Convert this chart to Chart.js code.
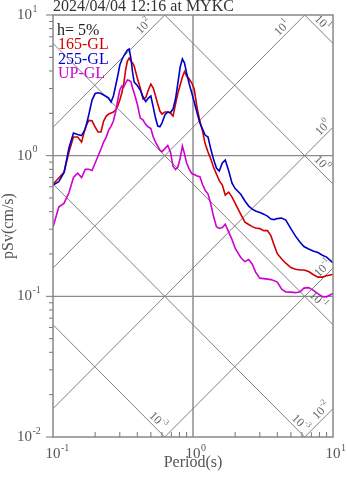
<!DOCTYPE html>
<html lang="en">
<head>
  <meta charset="UTF-8" />
  <title>pSv response spectra</title>
  <style>
    body { margin: 0; background: #fff; }
    canvas { display: block; }
  </style>
</head>
<body>

  <canvas id="spectrum" width="347" height="478"></canvas>

  <script src="https://cdn.jsdelivr.net/npm/chart.js"></script>

  <script>
    // period (s)
    const periods = [
      0.10, 0.11, 0.12, 0.13, 0.14, 0.15, 0.16, 0.17, 0.18, 0.19,
      0.20, 0.21, 0.22, 0.23, 0.24, 0.25, 0.26, 0.27, 0.28, 0.29,
      0.30, 0.31, 0.32, 0.33, 0.34, 0.35, 0.36, 0.37, 0.38, 0.40,
      0.42, 0.44, 0.46, 0.48, 0.50, 0.52, 0.54, 0.56, 0.58, 0.60,
      0.63, 0.66, 0.69, 0.72, 0.75, 0.78, 0.81, 0.84, 0.87, 0.90,
      0.94, 0.98, 1.02, 1.07, 1.12, 1.17, 1.22, 1.28, 1.34, 1.40,
      1.47, 1.54, 1.62, 1.70, 1.80, 1.90, 2.0, 2.1, 2.2, 2.35,
      2.5, 2.65, 2.8, 3.0, 3.2, 3.4, 3.6, 3.8, 4.0, 4.3,
      4.6, 5.0, 5.4, 5.8, 6.2, 6.7, 7.2, 7.8, 8.4, 9.0,
      10.0
    ];

    // pSv (cm/s), h = 5%
    const sv165 = [
      0.628, 0.693, 0.765, 1.061, 1.356, 1.356, 1.249, 1.572, 1.780, 1.770,
      1.598, 1.472, 1.472, 1.762, 1.913, 1.977, 2.009, 2.042, 2.110, 2.253,
      2.486, 2.788, 3.230, 4.062, 4.708, 4.945, 4.708, 4.557, 4.338, 3.564,
      3.025, 2.527, 2.590, 2.929, 3.230, 3.025, 2.654, 2.328, 2.076, 1.977,
      2.042, 2.042, 2.009, 1.913, 2.328, 2.788, 3.178, 3.622, 3.965, 3.683,
      3.506, 3.284, 2.977, 2.180, 1.762, 1.496, 1.219, 1.061, 0.946, 0.830,
      0.740, 0.665, 0.618, 0.525, 0.551, 0.508, 0.460, 0.417, 0.381, 0.337,
      0.324, 0.313, 0.306, 0.303, 0.293, 0.293, 0.270, 0.231, 0.201, 0.184,
      0.172, 0.160, 0.156, 0.154, 0.154, 0.150, 0.143, 0.137, 0.137, 0.140,
      0.143
    ];
    const sv255 = [
      0.618, 0.654, 0.760, 1.133, 1.448, 1.413, 1.390, 1.546, 1.945, 2.486,
      2.765, 2.802, 2.765, 2.698, 2.632, 2.569, 2.406, 2.654, 3.126, 3.683,
      4.410, 4.786, 5.110, 5.367, 5.638, 5.731, 4.945, 3.932, 3.338, 3.152,
      2.929, 2.611, 2.426, 2.569, 2.654, 2.216, 1.851, 1.624, 1.605, 1.705,
      1.945, 2.042, 2.025, 2.145, 2.527, 3.284, 4.267, 4.865, 4.557, 3.869,
      3.230, 2.788, 2.406, 2.009, 1.705, 1.546, 1.401, 1.356, 1.114, 0.946,
      0.816, 0.777, 0.886, 0.930, 0.777, 0.638, 0.583, 0.556, 0.529, 0.476,
      0.438, 0.417, 0.404, 0.394, 0.384, 0.372, 0.354, 0.351, 0.357, 0.360,
      0.348, 0.303, 0.268, 0.243, 0.226, 0.217, 0.210, 0.205, 0.196, 0.190,
      0.173
    ];
    const svUP = [
      0.311, 0.431, 0.460, 0.545, 0.700, 0.750, 0.700, 0.800, 0.800, 0.785,
      0.886, 0.994, 1.114, 1.249, 1.356, 1.521, 1.624, 1.762, 2.042, 2.486,
      2.929, 3.126, 3.075, 3.284, 3.450, 3.421, 3.365, 3.025, 2.788, 2.328,
      1.851, 1.791, 1.664, 1.598, 1.559, 1.356, 1.249, 1.170, 1.096, 1.069,
      1.123, 1.180, 1.061, 0.843, 0.796, 0.830, 0.961, 1.170, 1.027, 0.886,
      0.803, 0.746, 0.734, 0.716, 0.708, 0.623, 0.569, 0.533, 0.453, 0.372,
      0.313, 0.304, 0.308, 0.326, 0.286, 0.253, 0.220, 0.203, 0.188, 0.1765,
      0.1824, 0.1694, 0.1486, 0.1347, 0.1336, 0.1325, 0.1315, 0.1293, 0.1262, 0.1125,
      0.1075, 0.1071, 0.1062, 0.1078, 0.1144, 0.1153, 0.1107, 0.1045, 0.0995, 0.0992,
      0.1048
    ];

    const plotTitle = '2024/04/04 12:16 at MYKC';
    const dampingText = 'h= 5%';
    const seriesNames = ['165-GL', '255-GL', 'UP-GL'];

    // tripartite guide lines: displacement (cm) and acceleration (cm/s2)
    const dispLines = [0.001, 0.01, 0.1, 1, 10];
    const dispLabels = ['-3', '-3', '-1', '0', '1'];
    const accLines = [0.01, 0.1, 1, 10, 100];
    const accLabels = ['-2', '-1', '0', '1', '2'];

    // decade ticks
    const xTicks = [0.1, 1, 10];
    const yTicks = [0.01, 0.1, 1, 10];

    const colors = ['#d00000', '#0000c8', '#d000d0'];
    const FONT = '"Liberation Serif", "DejaVu Serif", serif';
    const TWO_PI = 2 * Math.PI;

    const svDisp = (d, t) => TWO_PI * d / t;
    const svAcc = (a, t) => a * t / TWO_PI;

    // where each guide label sits along its line (period, s)
    const dispLabelAt = [0.519, 5.41, 7.24, 7.70, 7.74];
    const accLabelAt = [8.93, 9.19, 9.19, 4.69, 0.483];

    const expText = v => String(Math.round(Math.log10(v)));

    // "10" with a raised exponent
    function drawPow(ctx, exp, x, y, size, align) {
      const supSize = Math.round(size * 0.68);
      ctx.font = size + 'px ' + FONT;
      const wBase = ctx.measureText('10').width;
      ctx.font = supSize + 'px ' + FONT;
      const wExp = ctx.measureText(exp).width;
      let x0 = x;
      if (align === 'base') x0 = x - wBase / 2;
      if (align === 'center') x0 = x - (wBase + wExp + 0.5) / 2;
      ctx.textAlign = 'left';
      ctx.textBaseline = 'middle';
      ctx.font = size + 'px ' + FONT;
      ctx.fillText('10', x0, y);
      ctx.font = supSize + 'px ' + FONT;
      ctx.fillText(exp, x0 + wBase + 0.5, y - size * 0.4);
    }

    function guideLabel(ctx, xs, ys, t, svOf, exp) {
      const px = xs.getPixelForValue(t), py = ys.getPixelForValue(svOf(t));
      const qx = xs.getPixelForValue(t * 1.2), qy = ys.getPixelForValue(svOf(t * 1.2));
      ctx.save();
      ctx.translate(px, py);
      ctx.rotate(Math.atan2(qy - py, qx - px));
      drawPow(ctx, exp, 0, -6.5, 12, 'center');
      ctx.restore();
    }

    const frame = {
      id: 'frame',
      beforeDatasetsDraw(chart) {
        const { ctx, chartArea: a, scales: { x, y } } = chart;
        ctx.save();
        // grid: T = 1 s and pSv = 1, 0.1
        ctx.strokeStyle = '#aaaaaa';
        ctx.lineWidth = 2;
        const gx = x.getPixelForValue(1);
        ctx.beginPath();
        ctx.moveTo(gx, a.top);
        ctx.lineTo(gx, a.bottom);
        ctx.stroke();
        ctx.strokeStyle = '#8a8a8a';
        ctx.lineWidth = 1.2;
        [1, 0.1].forEach(v => {
          const gy = y.getPixelForValue(v);
          ctx.beginPath();
          ctx.moveTo(a.left, gy);
          ctx.lineTo(a.right, gy);
          ctx.stroke();
        });
        ctx.restore();
      },
      afterDatasetsDraw(chart) {
        const { ctx, chartArea: a, scales: { x, y } } = chart;
        ctx.save();

        // frame
        ctx.strokeStyle = '#888';
        ctx.lineWidth = 1.5;
        ctx.strokeRect(a.left, a.top, a.right - a.left, a.bottom - a.top);

        // minor/major ticks
        ctx.lineWidth = 1;
        ctx.strokeStyle = '#777';
        ctx.beginPath();
        for (let k = -2; k <= 0; k++) {
          for (let m = 2; m <= 9; m++) {
            const ty = y.getPixelForValue(m * Math.pow(10, k));
            ctx.moveTo(a.left - 4, ty);
            ctx.lineTo(a.left, ty);
          }
        }
        yTicks.forEach(v => {
          const ty = y.getPixelForValue(v);
          ctx.moveTo(a.left - 7, ty);
          ctx.lineTo(a.left, ty);
        });
        for (let k = -1; k <= 0; k++) {
          for (let m = 2; m <= 9; m++) {
            const tx = x.getPixelForValue(m * Math.pow(10, k));
            ctx.moveTo(tx, a.bottom);
            ctx.lineTo(tx, a.bottom - 5);
          }
        }
        ctx.stroke();

        // tick labels
        ctx.fillStyle = '#555';
        yTicks.forEach(v => drawPow(ctx, expText(v), 17, y.getPixelForValue(v), 15, 'left'));
        xTicks.forEach(v => drawPow(ctx, expText(v), x.getPixelForValue(v), a.bottom + 17, 15, 'base'));

        // guide line labels
        ctx.save();
        ctx.beginPath();
        ctx.rect(a.left, a.top, a.right - a.left, a.bottom - a.top);
        ctx.clip();
        ctx.fillStyle = '#666';
        dispLines.forEach((d, i) => guideLabel(ctx, x, y, dispLabelAt[i], t => svDisp(d, t), dispLabels[i]));
        accLines.forEach((acc, i) => guideLabel(ctx, x, y, accLabelAt[i], t => svAcc(acc, t), accLabels[i]));
        ctx.restore();

        // title and axis titles
        ctx.font = '16px ' + FONT;
        ctx.textBaseline = 'alphabetic';
        ctx.textAlign = 'left';
        ctx.fillStyle = '#333';
        ctx.fillText(plotTitle, a.left, 10.5);

        ctx.fillStyle = '#555';
        ctx.textAlign = 'center';
        ctx.fillText('Period(s)', (a.left + a.right) / 2, 467);
        ctx.save();
        ctx.translate(9, (a.top + a.bottom) / 2);
        ctx.rotate(-Math.PI / 2);
        ctx.textBaseline = 'middle';
        ctx.fillText('pSv(cm/s)', 0, 0);
        ctx.restore();

        // legend
        ctx.textAlign = 'left';
        ctx.textBaseline = 'alphabetic';
        ctx.fillStyle = '#222';
        ctx.fillText(dampingText, a.left + 4, 34.5);
        seriesNames.forEach((name, i) => {
          ctx.fillStyle = colors[i];
          ctx.fillText(name, a.left + 5, 49 + i * 14.5);
        });

        ctx.restore();
      }
    };

    const toPoints = vals => periods.map((t, i) => ({ x: t, y: vals[i] }));

    const guideStyle = { borderColor: '#808080', borderWidth: 1, pointRadius: 0, showLine: true, order: 10 };
    const guides = [
      ...dispLines.map(d => ({ ...guideStyle, data: [{ x: 0.1, y: svDisp(d, 0.1) }, { x: 10, y: svDisp(d, 10) }] })),
      ...accLines.map(acc => ({ ...guideStyle, data: [{ x: 0.1, y: svAcc(acc, 0.1) }, { x: 10, y: svAcc(acc, 10) }] }))
    ];

    const curve = (label, vals, color, order) => ({
      label, data: toPoints(vals), borderColor: color, borderWidth: 1.6,
      pointRadius: 0, showLine: true, order
    });

    new Chart(document.getElementById('spectrum'), {
      type: 'scatter',
      data: {
        datasets: [
          curve(seriesNames[0], sv165, colors[0], 2),
          curve(seriesNames[1], sv255, colors[1], 1),
          curve(seriesNames[2], svUP, colors[2], 0),
          ...guides
        ]
      },
      options: {
        responsive: false,
        devicePixelRatio: 1,
        animation: false,
        layout: { padding: { left: 53, right: 14, top: 15, bottom: 41 } },
        plugins: { legend: { display: false }, tooltip: { enabled: false } },
        scales: {
          x: { type: 'logarithmic', min: 0.1, max: 10, display: false },
          y: { type: 'logarithmic', min: 0.01, max: 10, display: false }
        }
      },
      plugins: [frame]
    });
  </script>
</body>
</html>
